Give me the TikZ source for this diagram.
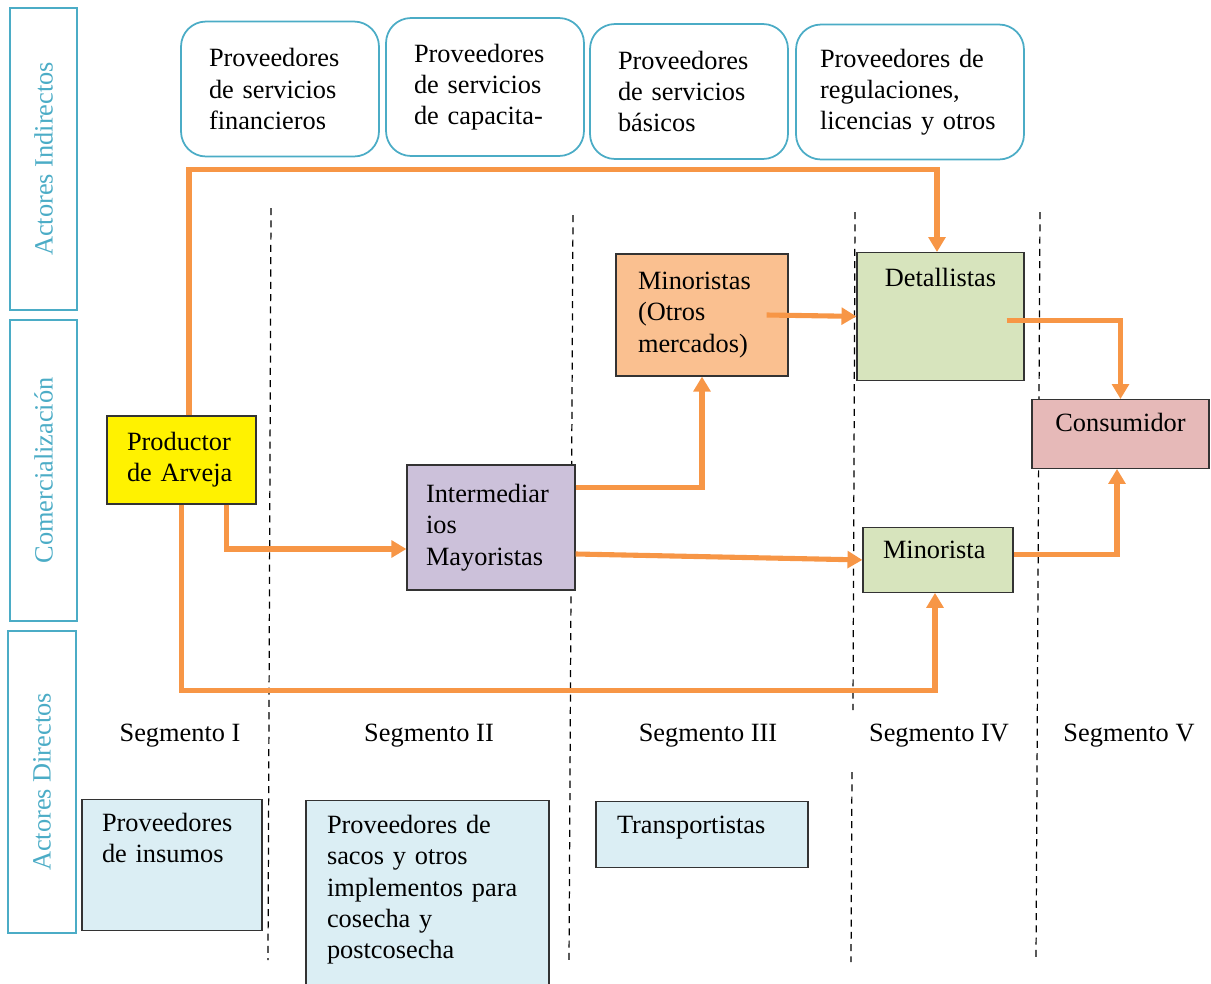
\documentclass[tikz,border=0pt]{standalone}
\usepackage{fontspec}
\setmainfont{Liberation Serif}
\usetikzlibrary{arrows.meta}

\definecolor{lanecol}{HTML}{4BACC6}
\definecolor{flowcol}{HTML}{F79646}
\definecolor{interfill}{HTML}{CCC1DA}
\definecolor{minofill}{HTML}{FAC090}
\definecolor{retailfill}{HTML}{D7E4BD}
\definecolor{consfill}{HTML}{E6B9B8}
\definecolor{supfill}{HTML}{DBEEF4}

\tikzset{
  every box/.style={font=\fontsize{15}{17.8}\selectfont, line width=0.7pt},
  lane/.style={draw=lanecol, line width=1pt, text=lanecol, rotate=90,
    minimum width=6.04cm, minimum height=1.34cm, font=\fontsize{15}{18}\selectfont},
  service/.style={every box, draw=lanecol, line width=1pt, rounded corners=0.5cm,
    align=left, minimum height=2.7cm, text width=2.84cm, inner xsep=0.56cm},
  actor/.style={every box, draw=black!80, align=left},
  supplier/.style={actor, fill=supfill, anchor=north, inner ysep=0pt},
  segment/.style={every box},
  divider/.style={dash pattern=on 4pt off 3pt, line width=0.7pt},
  flow/.style={draw=flowcol, line width=2.9pt, -{Triangle[length=8.5pt,width=9.5pt]}},
}

\begin{document}
\begin{tikzpicture}[x=0.02cm, y=-0.02cm]
\useasboundingbox (0,0) rectangle (1211,984);

% segment dividers
\draw [divider] (271,208) -- (268,960);
\draw [divider] (573,215) -- (569,965);
\draw [divider] (855,212) -- (853,710);
\draw [divider] (852,772) -- (851,962);
\draw [divider] (1040,212) -- (1036,962);

% lanes
\node [lane] (indirectos) at (43.5,159) {Actores Indirectos};
\node [lane, minimum width=6.02cm] (comercio) at (43.5,470.5) {Comercialización};
\node [lane, minimum height=1.36cm] (directos) at (42,782) {Actores Directos};

% indirect actors
\node [service] (financieros) at (280,89) {Proveedores\\de servicios\\financieros};
\node [service, minimum height=2.76cm] (capacitacion) at (485,87) {Proveedores\\de servicios\\de capacita-};
\node [service] (basicos) at (689,91.5) {Proveedores\\de servicios\\básicos};
\node [service, text width=3.6cm, inner xsep=0.48cm] (regulaciones) at (910,92)
  {Proveedores de\\regulaciones,\\licencias y otros};

% commercial chain
\node [actor, fill=yellow, text width=2.18cm, inner xsep=0.4cm, minimum height=1.76cm]
  (productor) at (181.5,460) {Productor\\de Arveja};
\node [actor, fill=interfill, text width=2.6cm, inner xsep=0.38cm, minimum height=2.5cm]
  (intermediarios) at (491,527.5) {Intermediar\\ios\\Mayoristas};
\node [actor, fill=minofill, text width=2.56cm, inner xsep=0.44cm, minimum height=2.44cm]
  (otros) at (702,315) {Minoristas\\(Otros\\mercados)};
\node [actor, fill=retailfill, align=center, anchor=north, minimum width=3.34cm,
  inner ysep=0pt, text height=19.3pt, text depth=53.3pt]
  (detallistas) at (940.5,252) {Detallistas};
\node [actor, fill=consfill, align=center, anchor=north, minimum width=3.54cm,
  inner ysep=0pt, text height=18.1pt, text depth=21pt]
  (consumidor) at (1120.5,399) {Consumidor};
\node [actor, fill=retailfill, anchor=north, text width=2.2cm, inner xsep=0.4cm,
  inner ysep=0pt, text height=17.6pt, text depth=19.2pt]
  (minorista) at (938,527) {Minorista};

% segments
\foreach \s/\x in {I/180, II/429, III/708, IV/939, V/1129}
  \node [segment] (segmento-\s) at (\x,736) {Segmento \s};

% direct actors
\node [supplier, text width=2.8cm, inner xsep=0.4cm, text height=18.1pt, text depth=56.2pt]
  (insumos) at (172,799) {Proveedores\\de insumos};
\node [supplier, text width=4.02cm, inner xsep=0.42cm, text height=18.7pt, text depth=89pt]
  (sacos) at (427.5,800) {Proveedores de\\sacos y otros\\implementos para\\cosecha y\\postcosecha};
\node [supplier, text width=3.4cm, inner xsep=0.42cm, text height=18.1pt, text depth=19.3pt]
  (transporte) at (702,801) {Transportistas};

% flows
\draw [flow] ([xshift=.15cm]productor.north) -- ++(0,-246) -| ([xshift=-.07cm]detallistas.north);
\draw [flow] (productor.south) -- ++(0,186) -| ([xshift=-.06cm]minorista.south);
\draw [flow] ([xshift=.9cm]productor.south) |- ([yshift=-.43cm]intermediarios.west);
\draw [flow] ([yshift=.8cm]intermediarios.east) -| (otros.south);
\draw [flow] ([yshift=-.53cm]intermediarios.east) -- (minorista.west);
\draw [flow] ([xshift=-.44cm]otros.east) -- (detallistas.west);
\draw [flow] ([xshift=-.36cm,yshift=-.08cm]detallistas.east) -| (consumidor.north);
\draw [flow] ([yshift=.1cm]minorista.east) -| ([xshift=-.07cm]consumidor.south);
\end{tikzpicture}
\end{document}
